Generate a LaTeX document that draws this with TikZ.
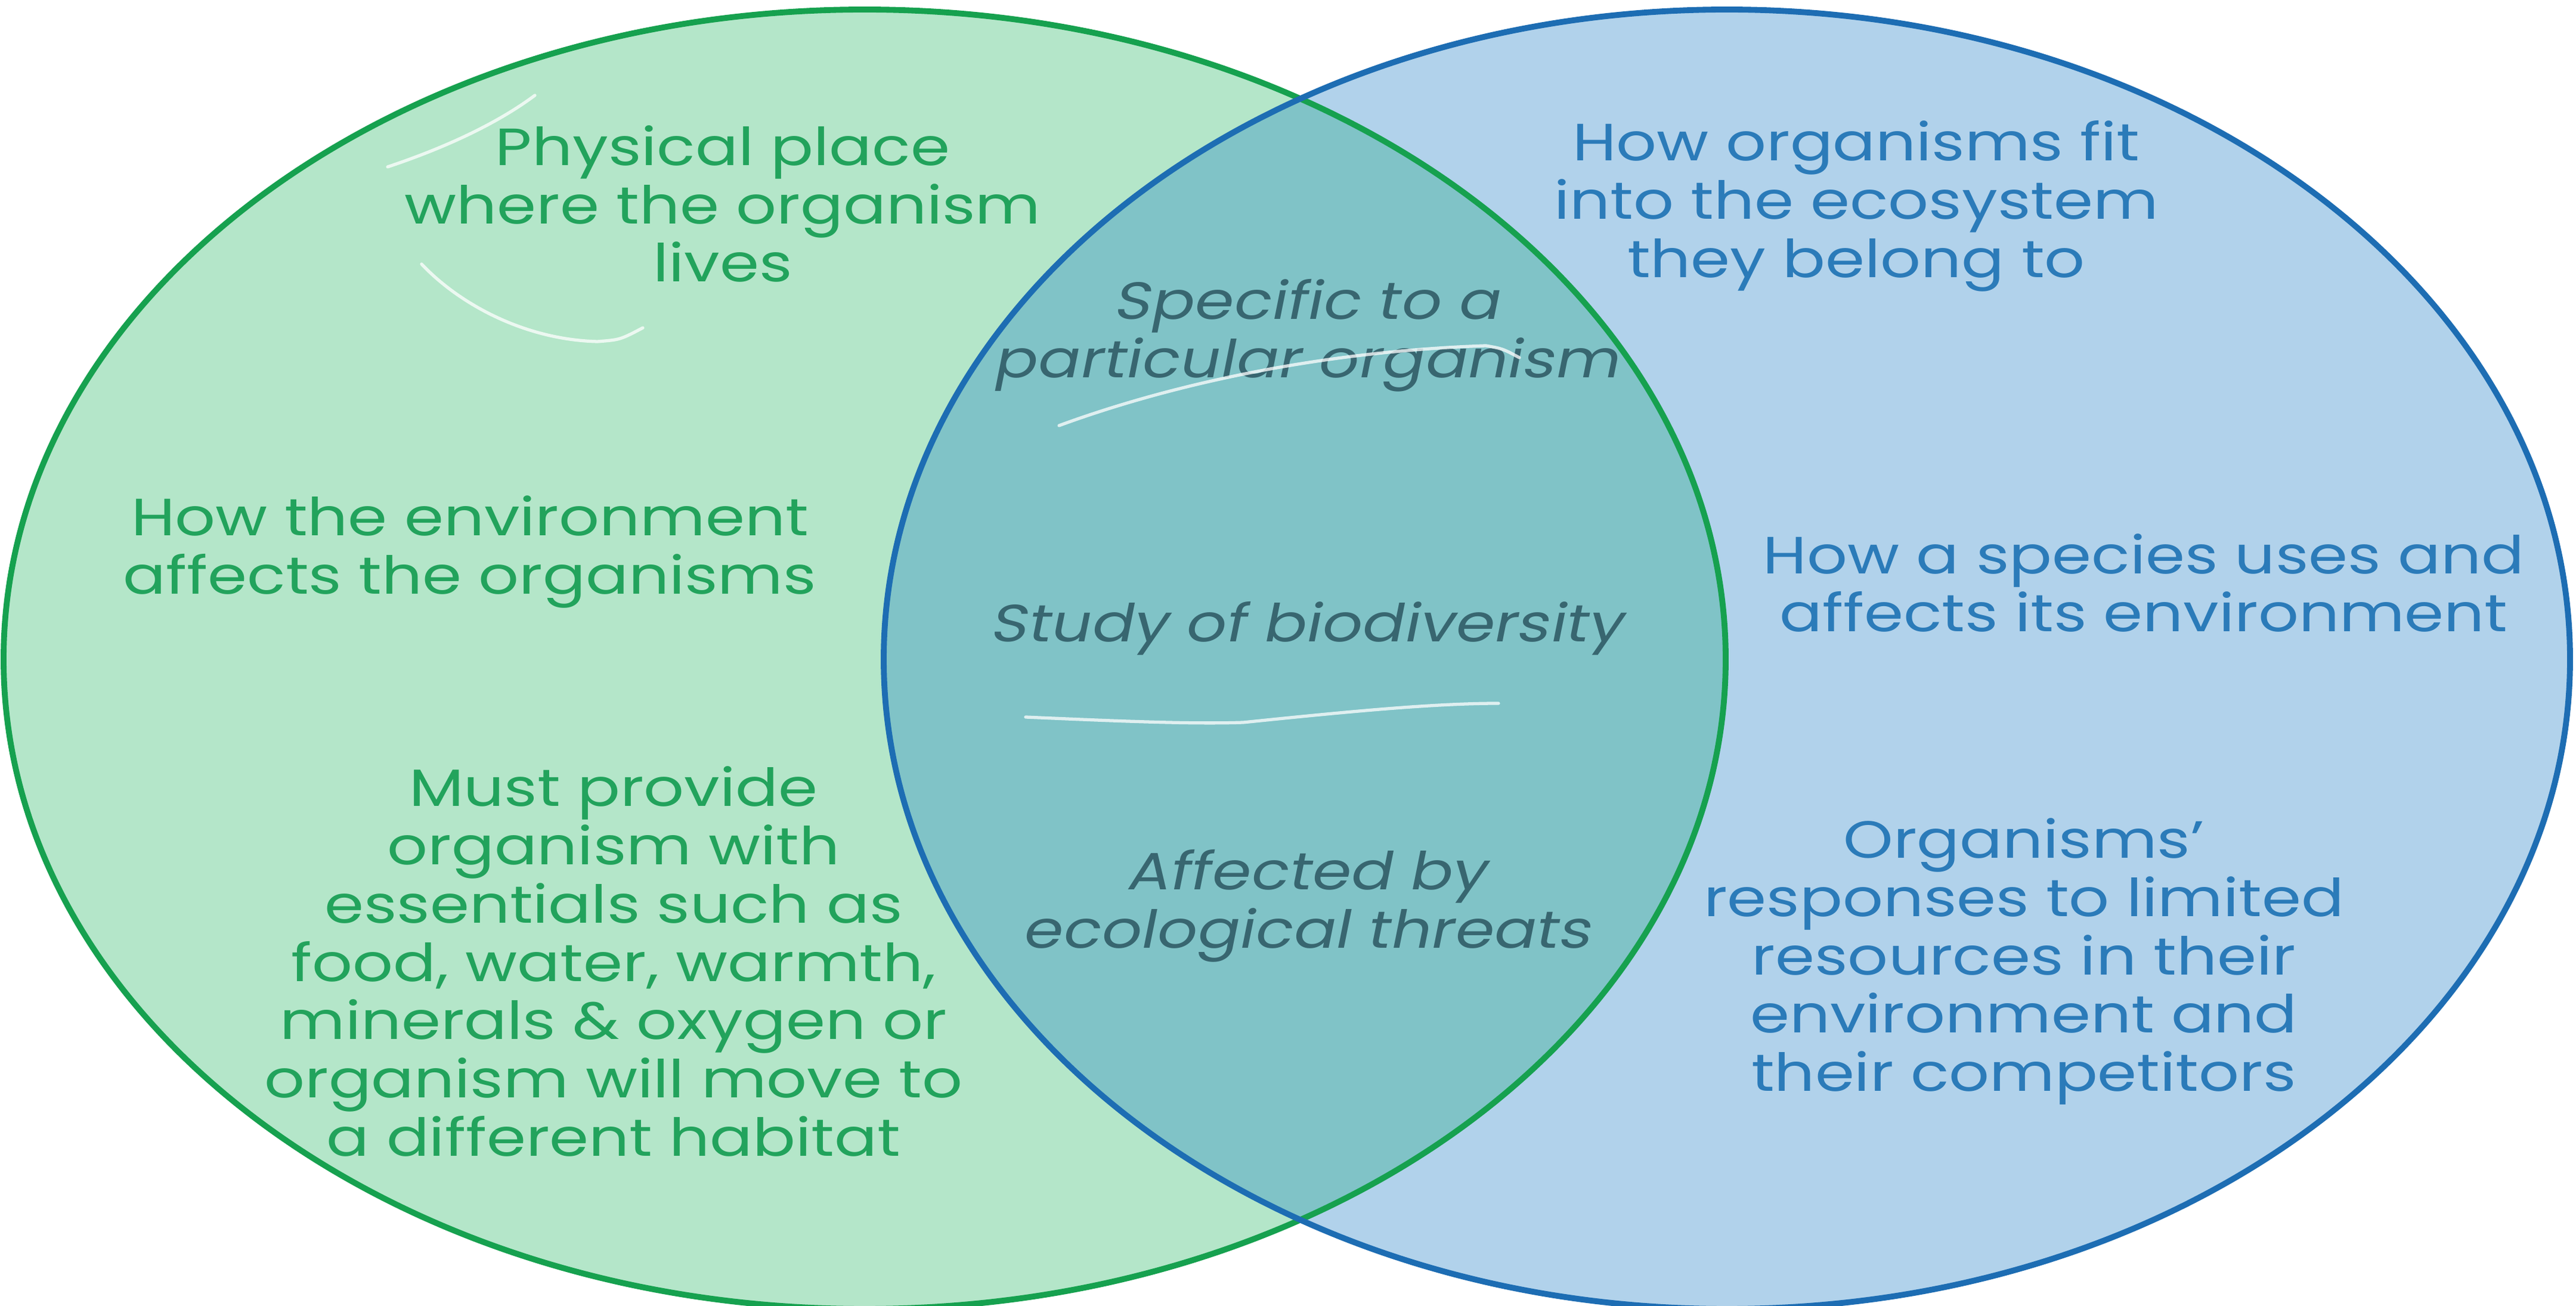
\documentclass[tikz,border=0pt]{standalone}
\usepackage{fontspec}
\setmainfont[FakeStretch=1.21]{Poppins}
\newfontfamily\midfont[FakeStretch=1.2,FakeSlant=0.2]{Poppins}
\definecolor{greenfill}{HTML}{B4E6C9}
\definecolor{greenline}{HTML}{16A14F}
\definecolor{greentext}{HTML}{22A35C}
\definecolor{bluefill}{HTML}{B1D2EB}
\definecolor{blueline}{HTML}{1D6DB3}
\definecolor{bluetext}{HTML}{2B7BB9}
\definecolor{midfill}{HTML}{80C3C7}
\definecolor{midtext}{HTML}{386670}
\tikzset{
  basetext/.style={align=center, inner sep=0pt, font=\fontsize{25}{27.8}\selectfont},
  lefttext/.style={basetext, text=greentext},
  righttext/.style={basetext, text=bluetext},
  midtext/.style={basetext, text=midtext, font=\fontsize{25}{27.8}\selectfont\midfont},
  scribble/.style={draw=white, opacity=0.75, line width=1.5pt, line cap=round, line join=round},
  ringline/.style={line width=2.8pt}
}
\begin{document}
\begin{tikzpicture}
\useasboundingbox (0,0) rectangle (43.2,21.9);
\fill[white] (0,0) rectangle (43.2,21.9);
\begin{scope}
\clip (0,0) rectangle (43.2,21.9);
\fill[greenfill] (14.50,10.84) ellipse [x radius=14.44, y radius=10.90];
\fill[bluefill] (28.96,10.84) ellipse [x radius=14.14, y radius=10.90];
\begin{scope}
\clip (14.50,10.84) ellipse [x radius=14.44, y radius=10.90];
\fill[midfill] (28.96,10.84) ellipse [x radius=14.14, y radius=10.90];
\end{scope}
\draw[ringline, greenline] (14.50,10.84) ellipse [x radius=14.44, y radius=10.90];
\draw[ringline, blueline] (28.96,10.84) ellipse [x radius=14.14, y radius=10.90];
\end{scope}

\node[lefttext] (phys) at (12.12,18.48) {Physical place\\where the organism\\lives};
\node[lefttext] (howenv) at (7.88,12.64) {How the environment\\affects the organisms};
\node[lefttext] (must) at (10.29,5.77) {Must provide\\organism with\\essentials such as\\food, water, warmth,\\minerals \& oxygen or\\organism will move to\\a different habitat};

\node[midtext] (spec) at (21.90,16.27) {Specific to a\\particular organism};
\node[midtext] (study) at (21.90,11.36) {Study of biodiversity};
\node[midtext] (affected) at (21.90,6.70) {Affected by\\ecological threats};

\node[righttext] (fit) at (31.13,18.44) {How organisms fit\\into the ecosystem\\they belong to};
\node[righttext] (species) at (35.95,12.12) {How a species uses and\\affects its environment};
\node[righttext] (responses) at (33.94,5.77) {Organisms'\\responses to limited\\resources in their\\environment and\\their competitors};

% hand-drawn white marks
\draw[scribble] (6.50,19.10) .. controls (7.40,19.40) and (8.30,19.80) .. (8.97,20.30);
\draw[scribble] (7.07,17.47) .. controls (7.70,16.80) and (8.80,16.20) .. (10.02,16.17) .. controls (10.40,16.20) .. (10.78,16.40);
\draw[scribble] (17.76,14.76) .. controls (19.50,15.40) and (22.00,16.00) .. (24.92,16.10) .. controls (25.20,16.05) .. (25.48,15.90);
\draw[scribble] (17.20,9.87) .. controls (18.80,9.80) and (20.00,9.75) .. (20.85,9.78) .. controls (22.50,9.95) and (24.00,10.10) .. (25.13,10.10);
\end{tikzpicture}
\end{document}
